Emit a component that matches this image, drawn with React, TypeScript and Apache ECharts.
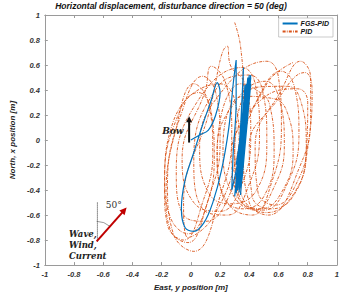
import { useEffect, useRef } from "react";
import * as echarts from "echarts";

// Axis range shared by both axes (metres)
const axisMin = -1;
const axisMax = 1;
const axisStep = 0.2;

const titleText = "Horizontal displacement, disturbance direction = 50 (deg)";
const xName = "East, y position [m]";
const yName = "North, x position [m]";
const seriesNames = ["FGS-PID", "PID"];

// PID trajectory [east, north], one line per loop
const pidTrack: number[][] = [
  [0.30, 0.94], [0.34, 0.75], [0.36, 0.35], [0.32, -0.10], [0.15, -0.62], [-0.02, -0.78], [-0.05, -0.50], [0.12, 0.20], [0.25, 0.75],
  [0.27, 0.60], [0.37, 0.45], [0.41, 0.05], [0.35, -0.35], [0.20, -0.57], [0.02, -0.50], [-0.06, -0.15], [0.10, 0.40],
  [0.14, 0.59], [0.24, 0.45], [0.28, 0.05], [0.20, -0.45], [0.02, -0.89], [-0.12, -0.75], [-0.16, -0.35], [-0.04, 0.30],
  [0.08, 0.51], [0.17, 0.38], [0.20, 0.00], [0.14, -0.40], [-0.02, -0.75], [-0.14, -0.62], [-0.18, -0.30], [-0.07, 0.25],
  [0.05, 0.38], [0.14, 0.22], [0.16, -0.15], [0.10, -0.55], [-0.02, -0.82], [-0.14, -0.72], [-0.17, -0.45], [-0.10, 0.10],
  [0.02, 0.45], [0.12, 0.30], [0.15, -0.10], [0.08, -0.50], [-0.05, -0.80], [-0.16, -0.68], [-0.18, -0.40], [-0.12, 0.15],
  [0.20, 0.45], [0.30, 0.32], [0.33, -0.05], [0.26, -0.45], [0.10, -0.65], [-0.05, -0.60], [-0.10, -0.25], [0.04, 0.30],
  [0.35, 0.58], [0.44, 0.45], [0.47, 0.05], [0.40, -0.35], [0.25, -0.60], [0.08, -0.55], [0.02, -0.15], [0.18, 0.42],
  [0.40, 0.52], [0.49, 0.40], [0.52, 0.00], [0.45, -0.40], [0.27, -0.51], [0.12, -0.42], [0.06, -0.05], [0.22, 0.40],
  [0.52, 0.63], [0.60, 0.50], [0.62, 0.10], [0.55, -0.35], [0.42, -0.60], [0.25, -0.50], [0.18, -0.10], [0.34, 0.45],
  [0.45, 0.40], [0.54, 0.28], [0.57, -0.10], [0.50, -0.45], [0.36, -0.55], [0.22, -0.45], [0.18, -0.08], [0.30, 0.30],
  [0.51, 0.47], [0.60, 0.35], [0.64, -0.05], [0.56, -0.40], [0.44, -0.56], [0.28, -0.42], [0.22, -0.05], [0.36, 0.35],
  [0.57, 0.33], [0.66, 0.22], [0.70, -0.10], [0.62, -0.42], [0.48, -0.55], [0.32, -0.45], [0.28, -0.10], [0.42, 0.25],
  [0.62, 0.55], [0.71, 0.42], [0.74, 0.05], [0.66, -0.35], [0.50, -0.56], [0.34, -0.48], [0.30, -0.10], [0.44, 0.42],
  [0.66, 0.43], [0.75, 0.32], [0.79, -0.05], [0.72, -0.40], [0.52, -0.58], [0.35, -0.45], [0.30, -0.05], [0.48, 0.32],
  [0.73, 0.41], [0.80, 0.30], [0.79, -0.10], [0.70, -0.45], [0.55, -0.55], [0.42, -0.45], [0.40, -0.05], [0.58, 0.30],
  [0.78, 0.54], [0.83, 0.40], [0.81, 0.02], [0.73, -0.33], [0.58, -0.52], [0.46, -0.42], [0.44, -0.05], [0.62, 0.40],
  [0.75, 0.63], [0.82, 0.50], [0.82, 0.20], [0.75, -0.20], [0.53, -0.60], [0.40, -0.50], [0.36, -0.10], [0.52, 0.45],
  [0.70, 0.62],
];

// FGS-PID transient excursions before settling
const fgsTransient: number[][] = [
  [0.00, 0.00], [0.06, 0.04], [0.12, 0.08], [0.17, 0.20], [0.20, 0.38], [0.18, 0.46], [0.14, 0.32],
  [0.08, 0.12], [0.02, -0.10], [-0.04, -0.32], [-0.065, -0.55], [-0.04, -0.70], [0.02, -0.73],
  [0.09, -0.66], [0.15, -0.50], [0.21, -0.24], [0.26, 0.10], [0.29, 0.45], [0.31, 0.64], [0.31, 0.30],
  [0.29, -0.10], [0.28, -0.40], [0.33, -0.10], [0.36, 0.58], [0.34, 0.10], [0.31, -0.42],
];

// FGS-PID settled oscillation band
const fgsBand: number[][] = [
  [0.31, -0.42], [0.38, 0.45], [0.32, -0.35], [0.39, 0.50], [0.33, -0.30], [0.40, 0.48], [0.30, -0.45],
  [0.37, 0.40], [0.34, -0.25], [0.41, 0.52], [0.32, -0.38], [0.38, 0.35], [0.33, -0.40], [0.40, 0.46],
  [0.31, -0.20], [0.39, 0.42], [0.34, -0.44], [0.41, 0.50], [0.32, -0.28], [0.37, 0.30], [0.35, -0.15],
  [0.40, 0.38], [0.33, -0.35], [0.36, 0.25], [0.32, -0.32], [0.39, 0.47], [0.34, -0.38], [0.38, 0.40],
  [0.31, -0.30], [0.40, 0.52], [0.33, -0.42], [0.37, 0.44], [0.35, -0.32], [0.41, 0.45], [0.32, -0.40],
  [0.39, 0.36], [0.34, -0.20], [0.40, 0.50], [0.33, -0.36],
];

// Annotation anchors in data units
const bowArrow = [[-0.012, -0.02], [-0.012, 0.19]];
const bowLabel = [-0.05, 0.07];
const windArrow = [[-0.645, -0.81], [-0.44, -0.54]];
const northRef = [[-0.64, -0.5], [-0.64, -0.81]];
const angleLabel = [-0.582, -0.518];
const angleText = "50°";
const windLines = ["Wave,", "Wind,", "Current"];
const windLineY = [-0.753, -0.84, -0.925];
const windLineX = -0.834;

const BLUE = "#0072BD";
const ORANGE = "#D95319";
const AXIS_GREY = "#9a9a9a";
const LABEL = { fontFamily: "Liberation Sans, Arial, sans-serif", fontStyle: "italic" as const, fontWeight: "bold" as const };
const SERIF = "DejaVu Serif, Liberation Serif, serif";

function arrowHead(tip: number[], from: number[], len: number, half: number, color: string) {
  const dx = tip[0] - from[0];
  const dy = tip[1] - from[1];
  const d = Math.hypot(dx, dy) || 1;
  const ux = dx / d, uy = dy / d;
  const bx = tip[0] - ux * len, by = tip[1] - uy * len;
  return {
    type: "polygon",
    shape: { points: [tip, [bx - uy * half, by + ux * half], [bx + uy * half, by - ux * half]] },
    style: { fill: color },
    z: 100,
  };
}

export default function App() {
  const ref = useRef<HTMLDivElement>(null);

  useEffect(() => {
    document.body.style.margin = "0";
    if (!ref.current) return;
    const chart = echarts.init(ref.current, undefined, { renderer: "svg" });

    const baseAxis = {
      type: "value" as const,
      min: axisMin,
      max: axisMax,
      interval: axisStep,
      splitLine: { show: false },
      axisLine: { show: true, onZero: false, lineStyle: { color: AXIS_GREY, width: 1 } },
      axisTick: { show: true, inside: true, length: 3, lineStyle: { color: AXIS_GREY } },
    };

    chart.setOption({
      animation: false,
      backgroundColor: "#fff",
      title: {
        text: titleText,
        left: "center",
        top: 1,
        padding: 0,
        textStyle: { ...LABEL, fontSize: 8.5, color: "#111" },
      },
      legend: {
        data: seriesNames,
        orient: "vertical",
        right: 9,
        top: 18,
        itemWidth: 15,
        itemHeight: 6,
        itemGap: 1,
        padding: [2, 4, 2, 3],
        borderColor: "#aaa",
        borderWidth: 0.6,
        borderRadius: 0,
        backgroundColor: "#fff",
        itemStyle: { opacity: 0 },
        textStyle: { ...LABEL, fontSize: 7, color: "#111", padding: [0, 0, 0, -2] },
      },
      grid: { left: 32, right: 3, top: 15, bottom: 26, containLabel: false },
      xAxis: [
        {
          ...baseAxis,
          position: "bottom",
          name: xName,
          nameLocation: "middle",
          nameGap: 16,
          nameTextStyle: { ...LABEL, fontSize: 8, color: "#222" },
          axisLabel: { ...LABEL, fontSize: 7.5, color: "#333", margin: 5 },
        },
        { ...baseAxis, position: "top", axisLabel: { show: false } },
      ],
      yAxis: [
        {
          ...baseAxis,
          position: "left",
          name: yName,
          nameLocation: "middle",
          nameGap: 23,
          nameTextStyle: { ...LABEL, fontSize: 8, color: "#222" },
          axisLabel: { ...LABEL, fontSize: 7.5, color: "#333", margin: 5 },
        },
        { ...baseAxis, position: "right", axisLabel: { show: false } },
      ],
      series: [
        {
          name: seriesNames[1],
          type: "line",
          data: pidTrack,
          smooth: 0.45,
          symbol: "none",
          lineStyle: { color: ORANGE, width: 0.9, type: [3, 1.2, 0.8, 1.2] },
          itemStyle: { color: ORANGE },
          z: 2,
        },
        {
          name: seriesNames[0],
          type: "line",
          data: fgsTransient,
          smooth: 0.35,
          symbol: "none",
          lineStyle: { color: BLUE, width: 1.2 },
          itemStyle: { color: BLUE },
          z: 3,
        },
        {
          name: seriesNames[0],
          type: "line",
          data: fgsBand,
          symbol: "none",
          lineStyle: { color: BLUE, width: 1.2 },
          itemStyle: { color: BLUE },
          z: 3,
        },
      ],
    });

    const px = (p: number[]) => chart.convertToPixel({ gridIndex: 0 }, p) as number[];

    const b0 = px(bowArrow[0]);
    const b1 = px(bowArrow[1]);
    const w0 = px(windArrow[0]);
    const w1 = px(windArrow[1]);
    const n0 = px(northRef[0]);
    const n1 = px(northRef[1]);
    const bl = px(bowLabel);
    const al = px(angleLabel);
    const ang = Math.atan2(w1[1] - w0[1], w1[0] - w0[0]);

    const graphics: any[] = [
      {
        type: "line",
        shape: { x1: b0[0], y1: b0[1], x2: b1[0], y2: b1[1] + 5 },
        style: { stroke: "#111", lineWidth: 2 },
        z: 100,
      },
      arrowHead(b1, b0, 6, 3, "#111"),
      {
        type: "text",
        x: bl[0],
        y: bl[1],
        style: { text: "Bow", fontFamily: SERIF, fontStyle: "italic", fontWeight: "bold", fontSize: 9, fill: "#222", align: "right", verticalAlign: "middle" },
        z: 100,
      },
      {
        type: "line",
        shape: { x1: n0[0], y1: n0[1], x2: n1[0], y2: n1[1] },
        style: { stroke: "#333", lineWidth: 1, lineDash: [1, 1] },
        z: 100,
      },
      {
        type: "arc",
        shape: { cx: w0[0], cy: w0[1], r: 20, startAngle: -Math.PI / 2, endAngle: ang, clockwise: true },
        style: { stroke: "#555", lineWidth: 0.6, fill: "none" },
        z: 100,
      },
      {
        type: "line",
        shape: { x1: w0[0], y1: w0[1], x2: w1[0] - 5 * Math.cos(ang), y2: w1[1] - 5 * Math.sin(ang) },
        style: { stroke: "#C00000", lineWidth: 2 },
        z: 100,
      },
      arrowHead(w1, w0, 7, 3.5, "#C00000"),
      {
        type: "text",
        x: al[0],
        y: al[1],
        style: { text: angleText, fontFamily: SERIF, fontSize: 9, fill: "#333", align: "left", verticalAlign: "middle" },
        z: 100,
      },
    ];
    windLines.forEach((t, i) => {
      const p = px([windLineX, windLineY[i]]);
      graphics.push({
        type: "text",
        x: p[0],
        y: p[1],
        style: { text: t, fontFamily: SERIF, fontStyle: "italic", fontWeight: "bold", fontSize: 8.5, fill: "#222", align: "left", verticalAlign: "middle" },
        z: 100,
      });
    });

    chart.setOption({ graphic: graphics });

    return () => chart.dispose();
  }, []);

  return <div ref={ref} style={{ width: 342, height: 296 }} />;
}
